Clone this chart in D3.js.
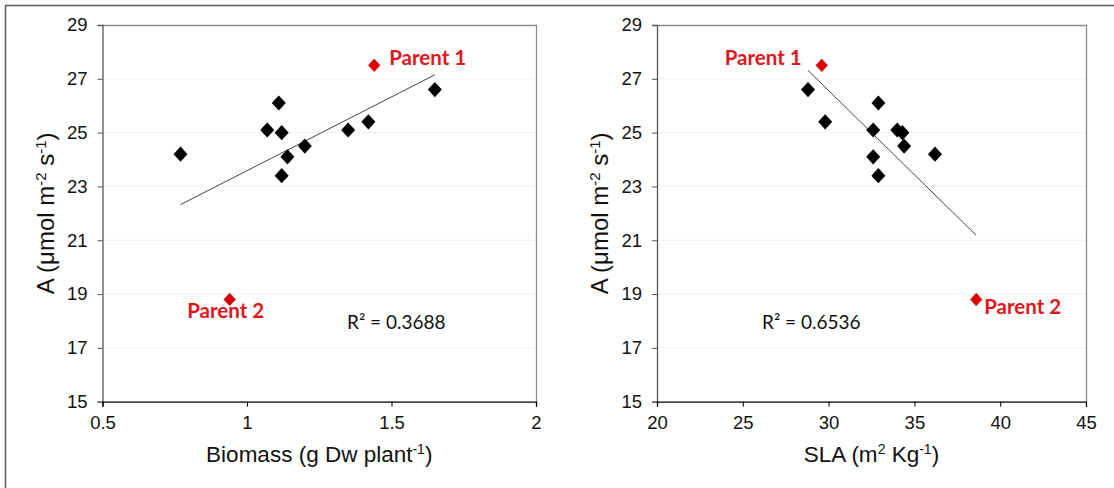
<!DOCTYPE html>
<html>
<head>
<meta charset="utf-8">
<script src="https://cdn.jsdelivr.net/npm/d3@7"></script>
<style>
  html, body { margin: 0; padding: 0; background: #fff; }
  svg { display: block; }
</style>
</head>
<body>
<svg id="chart" width="1114" height="488"></svg>
<script>
// Net photosynthesis (A) of the progeny against biomass and SLA
const biomass = [0.77, 1.11, 1.07, 1.12, 1.20, 1.14, 1.12, 1.35, 1.42, 1.65];
const sla     = [36.2, 32.9, 32.6, 34.3, 34.4, 32.6, 32.9, 34.0, 29.8, 28.8];
const photo   = [24.2, 26.1, 25.1, 25.0, 24.5, 24.1, 23.4, 25.1, 25.4, 26.6];

// The two parents
const parentNames   = ["Parent 1", "Parent 2"];
const parentBiomass = [1.44, 0.94];
const parentSLA     = [29.6, 38.6];
const parentA       = [27.5, 18.8];

// Axis ticks
const yTicks       = [15, 17, 19, 21, 23, 25, 27, 29];
const biomassTicks = [0.5, 1, 1.5, 2];
const slaTicks     = [20, 25, 30, 35, 40, 45];

// Coefficients of determination printed on each panel
const r2Labels = ["R² = 0.3688", "R² = 0.6536"];

const svg = d3.select("#chart");
const RED = "#e00000";

// outer frame (left and top edges)
svg.append("path")
  .attr("d", "M5.5,488 V5.5 H1114")
  .attr("fill", "none").attr("stroke", "#5a5a5a").attr("stroke-width", 1.5);

function panel(opts) {
  const { left, right, xDomain, xTicks, xFmt, xs, ps, r2, r2Pos, labelPos, xTitle } = opts;
  const top = 25, bottom = 401.7;
  const g = svg.append("g");

  const x = d3.scaleLinear().domain(xDomain).range([left, right]);
  const y = d3.scaleLinear().domain([15, 29]).range([bottom, top]);

  // horizontal gridlines
  g.append("g").selectAll("line")
    .data(yTicks.filter(t => t > 15 && t < 29))
    .join("line")
    .attr("x1", left).attr("x2", right)
    .attr("y1", d => y(d)).attr("y2", d => y(d))
    .attr("stroke", "#efefef").attr("stroke-width", 1);

  // top and right frame of the plot area
  g.append("path")
    .attr("d", `M${left},${top + 0.5} H${right + 0.5} V${bottom}`)
    .attr("fill", "none").attr("stroke", "#8a8a8a").attr("stroke-width", 1.3);

  // y axis
  const yAxis = g.append("g")
    .attr("transform", `translate(${left},0)`)
    .call(d3.axisLeft(y).tickValues(yTicks).tickSize(5).tickPadding(10).tickFormat(d3.format("d")));
  yAxis.select(".domain").attr("stroke", "#555").attr("stroke-width", 1.3);
  yAxis.selectAll(".tick line").attr("stroke", "#555");
  yAxis.selectAll("text").attr("font-family", "Liberation Sans, Arial, sans-serif")
    .attr("font-size", 18.5).attr("fill", "#111");

  // x axis
  const xAxis = g.append("g")
    .attr("transform", `translate(0,${bottom})`)
    .call(d3.axisBottom(x).tickValues(xTicks).tickSize(5).tickPadding(9).tickFormat(xFmt));
  xAxis.select(".domain").attr("stroke", "#000").attr("stroke-width", 1.3);
  xAxis.selectAll(".tick line").attr("stroke", "#000");
  xAxis.selectAll("text").attr("font-family", "Liberation Sans, Arial, sans-serif")
    .attr("font-size", 18.5).attr("fill", "#111");

  // least-squares trend line over all genotypes, parents included
  const allX = xs.concat(ps), allY = photo.concat(parentA);
  const mx = d3.mean(allX), my = d3.mean(allY);
  const sxy = d3.sum(allX, (v, i) => (v - mx) * (allY[i] - my));
  const sxx = d3.sum(allX, v => (v - mx) * (v - mx));
  const slope = sxy / sxx, icpt = my - slope * mx;
  const [x0, x1] = d3.extent(allX);
  g.append("line")
    .attr("x1", x(x0)).attr("y1", y(icpt + slope * x0))
    .attr("x2", x(x1)).attr("y2", y(icpt + slope * x1))
    .attr("stroke", "#444").attr("stroke-width", 1);

  const diamond = d3.symbol().type(d3.symbolDiamond2);

  // progeny
  g.append("g").selectAll("path")
    .data(xs.map((v, i) => [v, photo[i]]))
    .join("path")
    .attr("transform", d => `translate(${x(d[0])},${y(d[1])}) scale(1,1.08)`)
    .attr("d", diamond.size(125)())
    .attr("fill", "#000");

  // parents
  g.append("g").selectAll("path")
    .data(ps.map((v, i) => [v, parentA[i]]))
    .join("path")
    .attr("transform", d => `translate(${x(d[0])},${y(d[1])}) scale(1,1.08)`)
    .attr("d", diamond.size(85)())
    .attr("fill", RED).attr("stroke", "#b00000").attr("stroke-width", 0.6);

  g.append("g").selectAll("text")
    .data(parentNames.map((n, i) => ({ n, px: ps[i], py: parentA[i], pos: labelPos[i] })))
    .join("text")
    .attr("x", d => x(d.px) + d.pos[0])
    .attr("y", d => y(d.py) + d.pos[1])
    .attr("text-anchor", d => d.pos[2])
    .attr("font-family", "Lato, Carlito, Calibri, sans-serif")
    .attr("font-weight", 700).attr("font-size", 20.5)
    .attr("fill", "#e0161a")
    .text(d => d.n);

  // R² annotation
  g.append("text")
    .attr("x", r2Pos[0]).attr("y", r2Pos[1])
    .attr("font-family", "Lato, Carlito, Calibri, sans-serif")
    .attr("font-size", 19).attr("fill", "#111")
    .text(r2);

  // y title
  const yt = g.append("text")
    .attr("transform", `translate(${left - 49},${(top + bottom) / 2}) rotate(-90)`)
    .attr("text-anchor", "middle")
    .attr("font-family", "Liberation Sans, Arial, sans-serif")
    .attr("font-size", 24).attr("fill", "#111");
  yt.append("tspan").text("A (μmol m");
  yt.append("tspan").attr("baseline-shift", "super").attr("font-size", 15).text("-2");
  yt.append("tspan").text(" s");
  yt.append("tspan").attr("baseline-shift", "super").attr("font-size", 15).text("-1");
  yt.append("tspan").text(")");

  // x title
  const xt = g.append("text")
    .attr("x", (left + right) / 2).attr("y", 461.7)
    .attr("text-anchor", "middle")
    .attr("font-family", "Liberation Sans, Arial, sans-serif")
    .attr("font-size", 22.5).attr("fill", "#111");
  xTitle.forEach(([t, sup]) => {
    const s = xt.append("tspan").text(t);
    if (sup) s.attr("baseline-shift", "super").attr("font-size", 14);
  });
}

panel({
  left: 102.5, right: 536,
  xDomain: [0.5, 2], xTicks: biomassTicks, xFmt: d3.format(""),
  xs: biomass, ps: parentBiomass,
  r2: r2Labels[0], r2Pos: [347, 328.5],
  labelPos: [[15, 0, "start"], [-4, 19, "middle"]],
  xTitle: [["Biomass (g Dw plant", false], ["-1", true], [")", false]]
});

panel({
  left: 657, right: 1086,
  xDomain: [20, 45], xTicks: slaTicks, xFmt: d3.format("d"),
  xs: sla, ps: parentSLA,
  r2: r2Labels[1], r2Pos: [762, 329],
  labelPos: [[-20, 0, "end"], [8, 15, "start"]],
  xTitle: [["SLA (m", false], ["2", true], [" Kg", false], ["-1", true], [")", false]]
});
</script>
</body>
</html>
